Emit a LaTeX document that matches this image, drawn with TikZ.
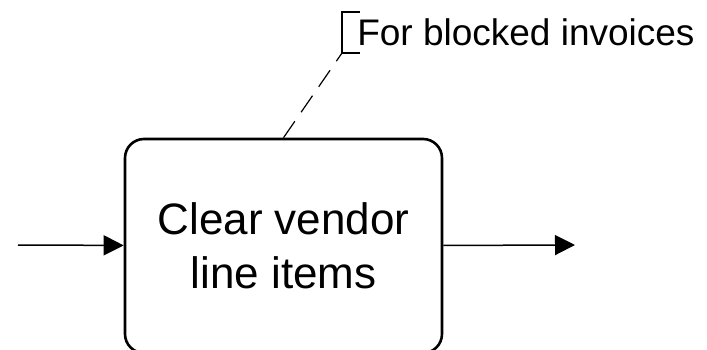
\documentclass[tikz,border=0pt]{standalone}
\usepackage{fontspec}
\setmainfont{Liberation Sans}
\usetikzlibrary{arrows.meta,positioning}

\begin{document}
\begin{tikzpicture}[
    x = 1pt, y = 1pt,
    > = {Triangle[length=20pt,width=20pt]}, % arrow head style
    semithick % line style
    ]

    \tikzset{
    task/.style = {
        draw = black,
        line width = 2.6pt,
        rounded corners = 19pt,
        minimum width = 317pt,
        minimum height = 214pt,
        inner sep = 0pt,
        align = center,
        font = \fontsize{44}{54}\selectfont
    },
    note/.style = {
        inner sep = 0pt,
        anchor = base west,
        font = \fontsize{37}{44}\selectfont
    },
    flow/.style = {->, line width = 1.5pt}
    }

    \useasboundingbox (0,0) rectangle (707,349);

    \node[task] (clear) at (283.5,103) {Clear vendor\\line items};
    \node[note] (blocked) at (357,303) {For blocked invoices};

    \coordinate (in) at (18,104);
    \coordinate (out) at (575,104);
    \coordinate (brk) at (342,296);

    % text annotation bracket
    \draw[line width=1.5pt] ([xshift=18pt]brk |- 0,337) -- (brk |- 0,337)
        -- (brk) -- ++(18pt,0);
    \draw[line width=1.2pt, dash pattern=on 20pt off 11pt] (clear.north) -- (brk);

    \path[flow] (in) edge (clear);
    \path[flow] (clear) edge (out);
\end{tikzpicture}
\end{document}
